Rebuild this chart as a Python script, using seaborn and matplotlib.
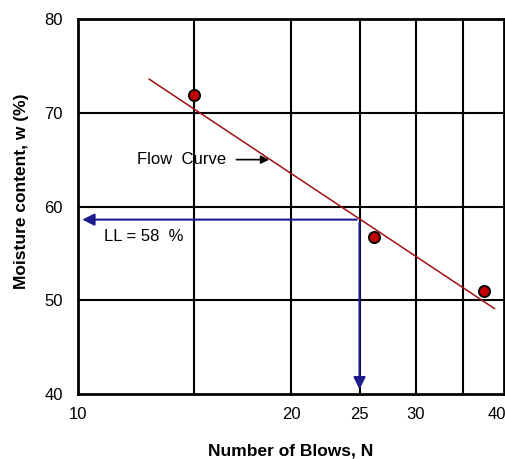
import numpy as np
import pandas as pd
import matplotlib
matplotlib.use("Agg")
import matplotlib.pyplot as plt
import matplotlib.transforms as mtransforms
import seaborn as sns

# test points (blows, moisture %)
blows = [14.6, 26.2, 37.5]
moisture = [71.9, 56.8, 51.0]

# flow curve end points
curve_n = [12.6, 38.8]
curve_w = [73.6, 49.1]

ll_blows = 25
ll_value = 58.6

x_ticks = [10, 20, 25, 30, 40]
x_grid = [14.6, 20, 25, 30, 35]
y_ticks = [40, 50, 60, 70, 80]

sns.set_style("white")
plt.rcParams['font.family'] = ['Liberation Sans', 'DejaVu Sans']
plt.rcParams['text.color'] = 'black'
plt.rcParams['xtick.color'] = 'black'
plt.rcParams['ytick.color'] = 'black'
plt.rcParams['axes.labelcolor'] = 'black'

fig = plt.figure(figsize=(5.06, 4.59), dpi=100)
ax = fig.add_axes([0.154, 0.1416, 0.842, 0.817])

ax.set_xscale('log')
ax.set_xlim(10, 40)
ax.set_ylim(40, 80)

for g in x_grid:
    ax.axvline(g, color='black', lw=1.5, zorder=1)
for g in y_ticks[1:-1]:
    ax.axhline(g, color='black', lw=1.5, zorder=1)

df_curve = pd.DataFrame({'N': curve_n, 'w': curve_w})
sns.lineplot(data=df_curve, x='N', y='w', color='#a01010', lw=1.1, ax=ax, zorder=3)

df_pts = pd.DataFrame({'N': blows, 'w': moisture})
sns.scatterplot(data=df_pts, x='N', y='w', color='#c00000', edgecolor='black',
                linewidth=1.3, s=65, ax=ax, zorder=4)

# LL construction arrows
blue = '#1c1c8c'
ax.annotate('', xy=(10.05, ll_value), xytext=(ll_blows, ll_value),
            arrowprops=dict(arrowstyle='-|>', color=blue, lw=1.5, mutation_scale=18),
            zorder=2)
ax.annotate('', xy=(ll_blows, 40.2), xytext=(ll_blows, ll_value),
            arrowprops=dict(arrowstyle='-|>', color=blue, lw=1.5, mutation_scale=18),
            zorder=2)

ax.text(10.9, 56.8, 'LL = 58  %', fontsize=12, va='center', ha='left',
        bbox=dict(facecolor='white', edgecolor='none', pad=1), zorder=5)
ax.text(12.1, 65.0, 'Flow  Curve', fontsize=12, va='center', ha='left', zorder=5)
ax.annotate('', xy=(18.8, 65.0), xytext=(16.6, 65.0),
            arrowprops=dict(arrowstyle='-|>', color='black', lw=1.2, mutation_scale=12),
            zorder=5)

ax.set_xticks(x_ticks)
ax.set_xticklabels([str(t) for t in x_ticks])
ax.xaxis.set_minor_locator(matplotlib.ticker.NullLocator())
ax.set_yticks(y_ticks)
ax.tick_params(axis='both', length=0, labelsize=12)
ax.tick_params(axis='y', pad=11)
ax.tick_params(axis='x', pad=9)

# keep the last x tick label inside the figure
last = ax.get_xticklabels()[-1]
last.set_transform(last.get_transform() +
                   mtransforms.ScaledTranslation(-7 / 100, 0, fig.dpi_scale_trans))

for sp in ax.spines.values():
    sp.set_color('black')
    sp.set_linewidth(2)

ax.set_xlabel('Number of Blows, N', fontsize=12.5, fontweight='bold', labelpad=16)
ax.set_ylabel('Moisture content, w (%)', fontsize=12.5, fontweight='bold', labelpad=10)
ax.yaxis.set_label_coords(-0.116, 0.54)

fig.savefig('out.png', dpi=100)
